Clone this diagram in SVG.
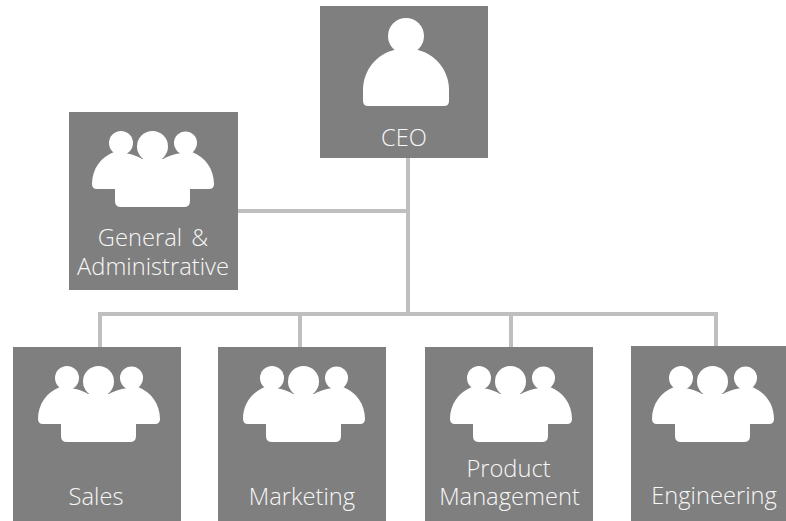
<svg xmlns="http://www.w3.org/2000/svg" width="786" height="521" viewBox="0 0 786 521">
<style>
.box{fill:#7f7f7f}
.ic{fill:#fff}
.c{fill:none;stroke:#bfbfbf;stroke-width:4}
text{font-family:"Open Sans","Noto Sans","Liberation Sans",sans-serif;font-weight:300;font-size:23.7px;fill:#f7f7f7;text-anchor:middle}
</style>
<defs>
<g id="team" class="ic">
<circle cx="29" cy="12" r="12"/>
<circle cx="60.5" cy="15.5" r="15.5"/>
<circle cx="93.5" cy="12" r="11.5"/>
<path d="M5,58 Q0,58 0,53 C0,38 9,26 22,21 C33,21 44,24 50,28 L71,28 C78,24 89,21 100,21 C113,26 122,38 122,53 Q122,58 117,58 L98,58 L98,70 Q98,76 92,76 L29,76 Q23,76 23,70 L23,58 Z"/>
</g>
</defs>
<g id="connectors" class="c">
<path d="M408,158V314"/>
<path d="M238,211H408"/>
<path d="M100,347V314H716V347"/>
<path d="M300,314V347"/>
<path d="M511,314V347"/>
</g>
<g id="ceo"><rect class="box" x="320" y="6" width="168" height="152"/>
<g class="ic"><circle cx="406" cy="36" r="18"/>
<path d="M368,106 Q363,106 363,101 L363,90 C363,70 377,54 394,50 L418,50 C435,54 449,70 449,90 L449,101 Q449,106 444,106 Z"/></g>
<text x="404" y="146">CEO</text></g>
<g id="general"><rect class="box" x="69" y="112" width="169" height="178"/>
<use href="#team" x="92" y="131"/>
<text x="153" y="246" word-spacing="3">General &amp;</text><text x="153" y="275">Administrative</text></g>
<g id="sales"><rect class="box" x="13" y="347" width="168" height="174"/>
<use href="#team" x="38" y="366"/>
<text x="96" y="505">Sales</text></g>
<g id="marketing"><rect class="box" x="218" y="347" width="168" height="174"/>
<use href="#team" x="243" y="366"/>
<text x="302" y="505">Marketing</text></g>
<g id="product"><rect class="box" x="425" y="347" width="168" height="174"/>
<use href="#team" x="450" y="366"/>
<text x="508.500" y="477">Product</text><text x="509.500" y="505">Management</text></g>
<g id="engineering"><rect class="box" x="631" y="346" width="155" height="175"/>
<use href="#team" x="652" y="366"/>
<text x="714" y="504">Engineering</text></g>
</svg>
